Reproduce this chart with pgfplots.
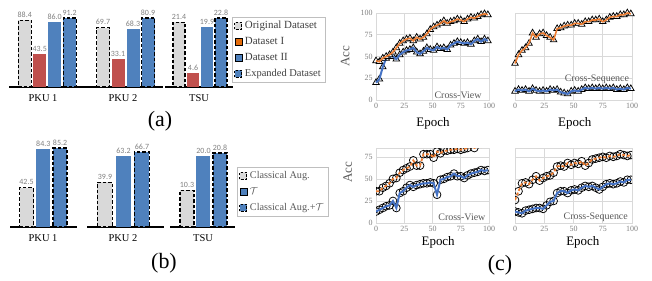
\documentclass[border=0pt]{standalone}
\usepackage{fontspec}
\setmainfont{Liberation Serif}
\newfontfamily\carlito{Carlito}
\usepackage{pgfplots}
\usepackage{pgfplotstable}
\pgfplotsset{compat=1.18}
\definecolor{barGray}{HTML}{D9D9D9}
\definecolor{barRed}{HTML}{C0504D}
\definecolor{barBlue}{HTML}{4F81BD}
\definecolor{legOrange}{HTML}{E46C0A}
\definecolor{lineOrange}{HTML}{ED7D31}
\definecolor{lineBlue}{HTML}{4472C4}
\definecolor{labGray}{HTML}{7F7F7F}
\definecolor{txtGray}{HTML}{595959}
\definecolor{darkText}{HTML}{404040}
\definecolor{gridGray}{HTML}{D9D9D9}
\definecolor{legBorder}{HTML}{BFBFBF}

\pgfplotstableread{
ep o b
0 45 20
3 44 24
6 48 38
9 50 48
12 52 50
15 55 50
18 60 47
21 65 52
24 68 55
27 70 57
30 71 58
33 68 60
36 72 55
39 70 53
42 72 56
45 76 60
48 81 58
51 84 57
54 86 61
57 88 59
60 91 60
63 88 58
66 90 63
69 91 65
72 93 67
75 92 66
78 90 65
81 93 66
84 95 64
87 94 68
90 96 70
93 98 67
96 99 70
99 98 68
}\tl
\pgfplotstableread{
ep o b
0 42 10
3 52 12
6 57 11
9 60 12
12 65 10
15 77 13
18 72 11
21 76 10
24 77 11
27 74 10
30 72 12
33 69 11
36 82 12
39 83 9
42 85 8
45 86 7
48 86 10
51 88 11
54 88 10
57 87 12
60 90 14
63 90 13
66 92 14
69 92 13
72 93 14
75 90 13
78 92 14
81 95 13
84 96 14
87 96 12
90 98 13
93 98 12
96 100 14
99 99 13
}\tr
\pgfplotstableread{
ep o b
0 36 13
3 36 15
6 40 17
9 42 19
12 45 20
15 50 25
18 51 17
21 57 34
24 60 36
27 62 40
30 64 43
33 71 41
36 65 43
39 65 44
42 78 45
45 78 45
48 78 46
51 74 45
54 81 32
57 79 49
60 82 50
63 82 52
66 83 53
69 83 56
72 84 53
75 83 53
78 84 51
81 85 54
84 86 56
87 85 57
90 87 58
93 86 60
96 88 59
99 86 60
}\bl
\pgfplotstableread{
ep o b
0 26 13
3 36 12
6 45 11
9 46 14
12 44 15
15 49 16
18 53 17
21 48 17
24 51 16
27 53 20
30 54 24
33 57 25
36 64 34
39 65 36
42 64 36
45 68 34
48 66 37
51 68 38
54 67 37
57 70 40
60 65 42
63 68 41
66 72 42
69 73 40
72 74 38
75 75 41
78 74 44
81 76 45
84 75 44
87 76 45
90 78 47
93 77 46
96 76 49
99 77 49
}\br

\pgfplotsset{
  barax/.style={scale only axis, anchor=south west, ymin=0,
    axis x line*=bottom, axis y line=none,
    x axis line style={black, line width=1.3bp, -},
    major tick length=0pt, clip=false, ytick=\empty,
    xticklabel style={font=\fontsize{10.5}{12}\selectfont, yshift=-4bp},
    nodes near coords={\pgfmathprintnumber[fixed, fixed zerofill, precision=1, assume math mode=true]{\pgfplotspointmeta}},
    every node near coord/.append style={font=\carlito\fontsize{8}{9}\selectfont, text=labGray, solid, draw=none, fill=none, inner sep=2bp}},
  origbar/.style={ybar, bar shift=0pt, fill=barGray, draw=black, line width=1.2bp, dash pattern=on 3.5bp off 2bp},
  redbar/.style={ybar, bar shift=0pt, fill=barRed, draw=none},
  bluebar/.style={ybar, bar shift=0pt, fill=barBlue, draw=none},
  expbar/.style={ybar, bar shift=0pt, fill=barBlue, draw=black, line width=1.2bp, dash pattern=on 3.5bp off 2bp},
  linax/.style={scale only axis, anchor=south west, xmin=0, xmax=100, ymin=0,
    xtick={0,25,50,75,100}, grid=major, grid style={gridGray, line width=0.6bp},
    axis line style={gridGray, line width=0.6bp}, major tick length=0pt,
    ticklabel style={font=\fontsize{8}{9}\selectfont, text=labGray},
    /pgf/number format/assume math mode=true, clip marker paths=true,
    xlabel={Epoch}, xlabel style={font=\fontsize{13}{14}\selectfont, anchor=center}},
  trimk/.style={only marks, mark=triangle*, mark size=3.8bp, mark options={fill=white, draw=black, line width=0.75bp, solid}},
  cimk/.style={only marks, mark=o, mark size=3.9bp, mark options={draw=black, line width=0.75bp, solid}},
  legimg/.style={legend image code/.code={\draw[##1] (0bp,-3.5bp) rectangle (7bp,3.5bp);}},
}

\begin{document}
\begin{tikzpicture}[x=1bp,y=1bp]
\useasboundingbox (0,0) rectangle (652,280);

% ---------------- panel (a) ----------------
\begin{axis}[barax, at={(9bp,193bp)}, width=79bp, height=69bp, ymax=91.2, xmin=-1.05, xmax=4.22, bar width=13bp, xtick={1.22}, xticklabels={PKU 1}]
\addplot[origbar] coordinates {(0,88.4)};
\addplot[redbar] coordinates {(1,43.5)};
\addplot[bluebar] coordinates {(2,86.0)};
\addplot[expbar] coordinates {(3,91.2)};
\end{axis}
\begin{axis}[barax, at={(87bp,193bp)}, width=76bp, height=69bp, ymax=80.9, xmin=-1.067, xmax=4.0, bar width=13bp, xtick={1.33}, xticklabels={PKU 2}]
\addplot[origbar] coordinates {(0,69.7)};
\addplot[redbar] coordinates {(1,33.1)};
\addplot[bluebar] coordinates {(2,68.3)};
\addplot[expbar] coordinates {(3,80.9)};
\end{axis}
\begin{axis}[barax, at={(165bp,193bp)}, width=68bp, height=69bp, ymax=22.8, xmin=-1, xmax=3.857, bar width=12bp, xtick={1.43}, xticklabels={TSU}]
\addplot[origbar] coordinates {(0,21.4)};
\addplot[redbar] coordinates {(1,4.6)};
\addplot[bluebar] coordinates {(2,19.9)};
\addplot[expbar] coordinates {(3,22.8)};
\end{axis}
\begin{axis}[hide axis, scale only axis, width=5bp, height=5bp, at={(232bp,263bp)}, anchor=north west,
  xmin=0, xmax=1, ymin=0, ymax=1, legimg,
  legend style={at={(0,1)}, anchor=north west, draw=legBorder, line width=0.6bp, fill=white,
    font=\fontsize{11}{12}\selectfont, text=darkText, inner xsep=2bp, inner ysep=0.5bp,
    nodes={inner sep=2.5bp, text height=8bp, text depth=3bp}},
  legend cell align=left]
\addlegendimage{fill=barGray, draw=black, line width=1.1bp, dash pattern=on 2.5bp off 1.5bp}
\addlegendentry{Original Dataset}
\addlegendimage{fill=legOrange, draw=none}
\addlegendentry{Dataset I}
\addlegendimage{fill=barBlue, draw=none}
\addlegendentry{Dataset II}
\addlegendimage{fill=barBlue, draw=black, line width=1.1bp, dash pattern=on 2.5bp off 1.5bp}
\addlegendentry{\fontsize{10.5}{12}\selectfont Expanded Dataset}
\end{axis}
\node[font=\fontsize{22}{24}\selectfont] at (160,159) {(a)};

% ---------------- panel (b) ----------------
\begin{axis}[barax, at={(10bp,53bp)}, width=67bp, height=79bp, ymax=85.2, xmin=-0.985, xmax=3.01, bar width=14bp, xtick={0.985}, xticklabels={PKU 1}]
\addplot[origbar] coordinates {(0,42.5)};
\addplot[bluebar] coordinates {(1,84.3)};
\addplot[expbar] coordinates {(2,85.2)};
\end{axis}
\begin{axis}[barax, at={(87bp,53bp)}, width=77bp, height=79bp, ymax=70.3, xmin=-0.973, xmax=3.19, bar width=15bp, xtick={0.973}, xticklabels={PKU 2}]
\addplot[origbar] coordinates {(0,39.9)};
\addplot[bluebar] coordinates {(1,63.2)};
\addplot[expbar] coordinates {(2,66.7)};
\end{axis}
\begin{axis}[barax, at={(170bp,53bp)}, width=65bp, height=79bp, ymax=22.2, xmin=-1.03, xmax=2.91, bar width=14bp, xtick={0.97}, xticklabels={TSU}]
\addplot[origbar] coordinates {(0,10.3)};
\addplot[bluebar] coordinates {(1,20.0)};
\addplot[expbar] coordinates {(2,20.8)};
\end{axis}
\begin{axis}[hide axis, scale only axis, width=5bp, height=5bp, at={(237bp,113bp)}, anchor=north west,
  xmin=0, xmax=1, ymin=0, ymax=1, legimg,
  legend style={at={(0,1)}, anchor=north west, draw=legBorder, line width=0.6bp, fill=white,
    font=\fontsize{10.3}{12}\selectfont, text=txtGray, inner xsep=2bp, inner ysep=0.5bp,
    nodes={inner sep=2.5bp, text height=8bp, text depth=3bp}},
  legend cell align=left]
\addlegendimage{fill=barGray, draw=black, line width=1.1bp, dash pattern=on 2.5bp off 1.5bp}
\addlegendentry{Classical Aug.}
\addlegendimage{fill=barBlue, draw=none}
\addlegendentry{$\mathcal{T}$}
\addlegendimage{fill=barBlue, draw=black, line width=1.1bp, dash pattern=on 2.5bp off 1.5bp}
\addlegendentry{Classical Aug.+$\mathcal{T}$}
\end{axis}
\node[font=\fontsize{22}{24}\selectfont] at (164,17) {(b)};

% ---------------- panel (c) ----------------
\begin{axis}[linax, at={(376bp,180bp)}, width=113bp, height=87bp, ymax=100, ytick={0,25,50,75,100}, clip=false,
  ylabel={Acc}, ylabel style={font=\fontsize{13}{14}\selectfont, text=txtGray, at={(axis description cs:-0.274,0.5)}, anchor=center},
  xlabel style={at={(axis description cs:0.504,-0.264)}}]
\addplot[trimk] table[x=ep,y=b]{\tl};
\addplot[lineBlue, line width=2bp, no marks] table[x=ep,y=b]{\tl};
\addplot[trimk] table[x=ep,y=o]{\tl};
\addplot[lineOrange, line width=1.6bp, no marks] table[x=ep,y=o]{\tl};
\node[font=\fontsize{10}{11}\selectfont, text=txtGray] at (axis description cs:0.726,0.057) {Cross-View};
\end{axis}
\begin{axis}[linax, at={(515bp,180bp)}, width=117bp, height=87bp, ymax=100, ytick={0,25,50,75,100}, yticklabels={}, clip=false,
  xlabel style={at={(axis description cs:0.51,-0.264)}}]
\addplot[trimk] table[x=ep,y=b]{\tr};
\addplot[lineBlue, line width=2bp, no marks] table[x=ep,y=b]{\tr};
\addplot[trimk] table[x=ep,y=o]{\tr};
\addplot[lineOrange, line width=1.6bp, no marks] table[x=ep,y=o]{\tr};
\node[font=\fontsize{10}{11}\selectfont, text=txtGray] at (axis description cs:0.70,0.24) {Cross-Sequence};
\end{axis}
\begin{axis}[linax, at={(376bp,57bp)}, width=113bp, height=75bp, ymax=85, ytick={0,25,50,75},
  ylabel={Acc}, ylabel style={font=\fontsize{13}{14}\selectfont, text=txtGray, at={(axis description cs:-0.25,0.68)}, anchor=center},
  xlabel style={at={(axis description cs:0.55,-0.253)}}]
\addplot[cimk] table[x=ep,y=b]{\bl};
\addplot[lineBlue, line width=2bp, no marks] table[x=ep,y=b]{\bl};
\addplot[cimk] table[x=ep,y=o]{\bl};
\addplot[lineOrange, line width=1.8bp, no marks, dash pattern=on 3bp off 2bp] table[x=ep,y=o]{\bl};
\node[font=\fontsize{10}{11}\selectfont, text=txtGray] at (axis description cs:0.76,0.08) {Cross-View};
\end{axis}
\begin{axis}[linax, at={(515bp,57bp)}, width=117bp, height=75bp, ymax=85, ytick={0,25,50,75}, yticklabels={},
  xlabel style={at={(axis description cs:0.58,-0.253)}}]
\addplot[cimk] table[x=ep,y=b]{\br};
\addplot[lineBlue, line width=2bp, no marks] table[x=ep,y=b]{\br};
\addplot[cimk] table[x=ep,y=o]{\br};
\addplot[lineOrange, line width=1.8bp, no marks, dash pattern=on 3bp off 2bp] table[x=ep,y=o]{\br};
\node[font=\fontsize{10}{11}\selectfont, text=txtGray] at (axis description cs:0.69,0.08) {Cross-Sequence};
\end{axis}
\node[font=\fontsize{22}{24}\selectfont] at (500,15) {(c)};
\end{tikzpicture}
\end{document}
